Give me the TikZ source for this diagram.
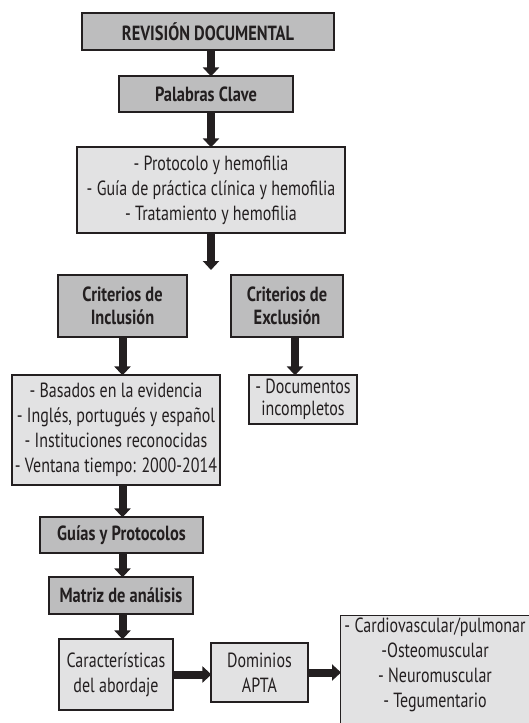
\documentclass[tikz,border=0pt]{standalone}
\usepackage{fontspec}
\setmainfont{PT Sans}[FakeStretch=0.78, BoldFeatures={FakeStretch=0.8}]
\usetikzlibrary{arrows.meta}
\definecolor{ink}{HTML}{231F20}
\definecolor{darkfill}{HTML}{BDBDBE}
\definecolor{lightfill}{HTML}{E2E2E3}
\tikzset{
  base/.style={draw=ink, line width=1.2pt, rectangle, inner sep=0pt, text=ink, align=center,
    font=\fontsize{20.5}{25}\selectfont},
  headbox/.style={base, fill=darkfill, font=\fontsize{20.5}{23}\selectfont\bfseries},
  listbox/.style={base, fill=lightfill},
  arr/.style={draw=ink, line width=8pt, -{Triangle[width=16pt,length=9pt]}, shorten >=-1pt}
}
\begin{document}
\begin{tikzpicture}[x=1pt,y=-1pt]
\useasboundingbox (0,0) rectangle (529,723);
\clip (0,0) rectangle (529,723);
% top column
\node[headbox, minimum width=252pt, minimum height=37pt] (b1) at (208,31.5) {REVISIÓN DOCUMENTAL};
\node[headbox, minimum width=174pt, minimum height=36pt] (b2) at (206,94) {Palabras Clave};
\node[listbox, minimum width=268pt, minimum height=86pt] (b3) at (211,190)
  {- Protocolo y hemofilia\\- Guía de práctica clínica y hemofilia\\- Tratamiento y hemofilia};
\coordinate (split) at (211,269);
% criteria
\node[headbox, minimum width=129pt, minimum height=62pt] (inc) at (122.5,306) {Criterios de\\Inclusión};
\node[headbox, minimum width=112pt, minimum height=62pt] (exc) at (287,306) {Criterios de\\Exclusión};
\node[listbox, minimum width=208pt, minimum height=110pt] (incl) at (116,430)
  {- Basados en la evidencia\\- Inglés, portugués y español\\- Instituciones reconocidas\\- Ventana tiempo: 2000-2014};
\node[listbox, minimum width=108pt, minimum height=49pt, font=\fontsize{20.5}{22}\selectfont] (excl) at (303,399.5) {- Documentos\\incompletos};
% lower column
\node[headbox, minimum width=163pt, minimum height=36pt] (gp) at (121.5,535) {Guías y Protocolos};
\node[headbox, minimum width=144pt, minimum height=37pt] (ma) at (121,595.5) {Matriz de análisis};
\node[listbox, minimum width=114pt, minimum height=71pt] (ca) at (116,674.5) {Características\\del abordaje};
\node[listbox, minimum width=97pt, minimum height=59pt] (do) at (259.5,672.5) {Dominios\\APTA};
\node[listbox, minimum width=216pt, minimum height=125pt, anchor=north west] (fi) at (340,615) {};
\node[text=ink, align=center, font=\fontsize{20.5}{25}\selectfont] (fit) at (435,665)
  {- Cardiovascular/pulmonar\\-Osteomuscular\\- Neuromuscular\\- Tegumentario};
% arrows
\draw[arr] (b1.south -| b3.center) -- (b2.north -| b3.center);
\draw[arr] (b2.south -| b3.center) -- (b3.north);
\draw[arr] (b3.south) -- (split);
\draw[arr] (inc.south) -- (inc.south |- incl.north);
\draw[arr] ([xshift=8pt]exc.south) -- ([xshift=8pt]exc.south |- excl.north);
\draw[arr] (incl.south -| inc.center) -- (gp.north -| inc.center);
\draw[arr] (gp.south -| inc.center) -- (ma.north -| inc.center);
\draw[arr] (ma.south -| inc.center) -- (ca.north -| inc.center);
\draw[arr] (ca.east) -- (do.west |- ca.east);
\draw[arr] (do.east) -- (fi.west |- do.east);
\end{tikzpicture}
\end{document}
